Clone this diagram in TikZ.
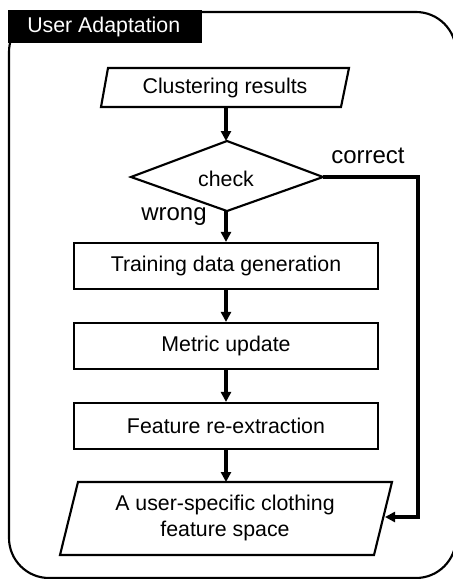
\documentclass[tikz,border=0pt]{standalone}
\usepackage{fontspec}
\setmainfont{Liberation Sans}
\usetikzlibrary{arrows.meta,shapes.geometric}
\begin{document}
\begin{tikzpicture}[x=0.75pt,y=-0.75pt,
  boxline/.style={line width=1.6pt},
  flow/.style={line width=2.6pt,-{Triangle[length=7.5pt,width=7.5pt]}},
  txt/.style={font=\fontsize{16pt}{19pt}\selectfont,align=center,inner sep=0pt},
  lbl/.style={font=\fontsize{18pt}{21pt}\selectfont,inner sep=0pt}]
\useasboundingbox (0,0) rectangle (453,579);
\begin{scope}
\clip (0,0) rectangle (453,579);
% outer frame
\draw[line width=1.6pt,rounded corners=30] (9,12) rectangle (456,578);
\end{scope}
% title tab
\fill (8,10) rectangle (202,43);
\node[txt,text=white,anchor=west] (title) at (27,27) {User Adaptation};

% shapes
\draw[boxline] (108,68) -- (349,68) -- (341,107) -- (101,107) -- cycle;
\node[txt] (clus) at (225,88) {Clustering results};
\coordinate (clusB) at (226,107);

\draw[boxline] (227,141) -- (323,177) -- (227,211) -- (131,177) -- cycle;
\node[txt] (check) at (226,179) {check};
\coordinate (chkT) at (226,141);
\coordinate (chkB) at (226,211);
\coordinate (chkR) at (323,177);

\node[draw,boxline,minimum width=228pt,minimum height=34.5pt,txt] (train) at (226,266) {Training data generation};
\node[draw,boxline,minimum width=228pt,minimum height=34.5pt,txt] (metric) at (226,346) {Metric update};
\node[draw,boxline,minimum width=228pt,minimum height=34.5pt,txt] (feat) at (226,426) {Feature re-extraction};

\draw[boxline] (78,482) -- (392,482) -- (374,555) -- (60,555) -- cycle;
\node[txt] (space) at (225,518) {A user-specific clothing\\feature space};
\coordinate (spT) at (226,482);
\coordinate (spR) at (385,517);
\coordinate (turn) at (418,177);

% labels
\node[lbl] (correct) at (368,156) {correct};
\node[lbl] (wrong) at (174,217) {wrong};

% connectors
\draw[flow] (clusB) -- (chkT);
\draw[flow] (chkB) -- (train.north);
\draw[flow] (train.south) -- (metric.north);
\draw[flow] (metric.south) -- (feat.north);
\draw[flow] (feat.south) -- (spT);
\draw[flow,line width=3pt] (chkR) -- (turn) |- (spR);
\end{tikzpicture}
\end{document}
